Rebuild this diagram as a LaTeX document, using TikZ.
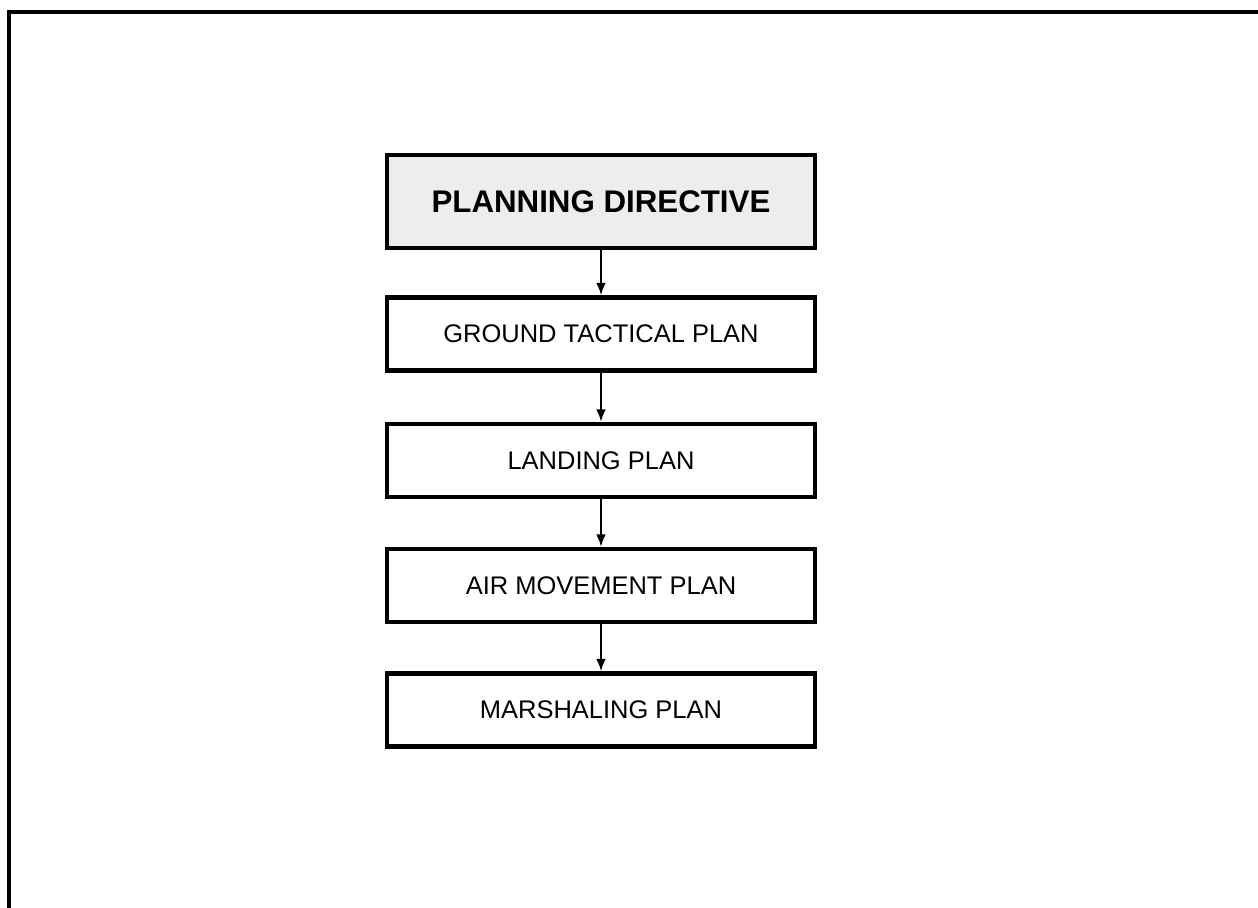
\documentclass[tikz,border=0pt]{standalone}
\usepackage{fontspec}
\setmainfont{Liberation Sans}
\usepackage{tikz}
\usetikzlibrary{arrows.meta, positioning}

\begin{document}
\begin{tikzpicture}[
    ->, >={Latex[length=7pt,width=5.5pt]}, line width=1.1pt,
    planbox/.style={rectangle, draw, line width=2.6pt, minimum width=8.56cm,
        minimum height=1.46cm, font=\fontsize{14.5}{17}\selectfont},
    headbox/.style={planbox, fill=gray!14, minimum height=1.86cm,
        font=\fontsize{17.8}{20}\selectfont\bfseries}
]

\useasboundingbox (0,0) rectangle (25.16,-18.16);

% frame, top and left only
\draw[-, line width=2.8pt] (0.18,-18.16) -- (0.18,-0.24) -- (25.16,-0.24);

\node[headbox] (PD) at (12.02,-4.03) {PLANNING DIRECTIVE};
\node[planbox] (GT) at (12.02,-6.68) {GROUND TACTICAL PLAN};
\node[planbox] (LP) at (12.02,-9.21) {LANDING PLAN};
\node[planbox] (AM) at (12.02,-11.71) {AIR MOVEMENT PLAN};
\node[planbox] (MP) at (12.02,-14.20) {MARSHALING PLAN};

\draw (PD) -- (GT);
\draw (GT) -- (LP);
\draw (LP) -- (AM);
\draw (AM) -- (MP);

\end{tikzpicture}
\end{document}
